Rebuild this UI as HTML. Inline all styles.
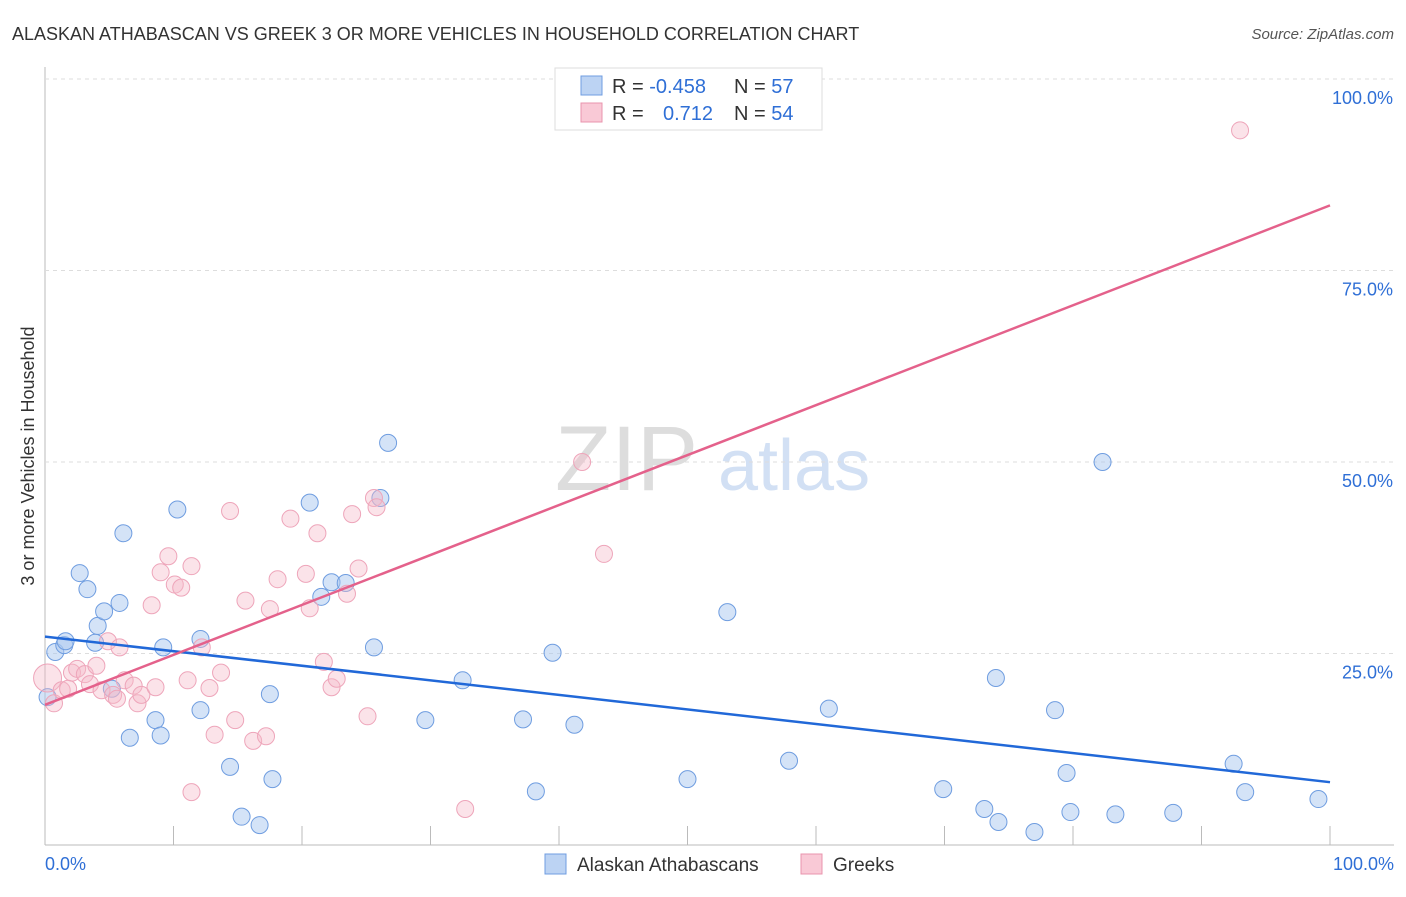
<!DOCTYPE html>
<html><head><meta charset="utf-8"><style>
body{margin:0;background:#fff;font-family:"Liberation Sans",sans-serif}
text{font-family:"Liberation Sans",sans-serif}
</style></head><body>
<svg id="c" width="1406" height="892">
<text x="12" y="40" font-size="18" fill="#333">ALASKAN ATHABASCAN VS GREEK 3 OR MORE VEHICLES IN HOUSEHOLD CORRELATION CHART</text>
<text x="1394" y="39" font-size="15" fill="#555" text-anchor="end" font-style="italic">Source: ZipAtlas.com</text>
<text x="34" y="456" font-size="18" fill="#333" text-anchor="middle" transform="rotate(-90 34 456)">3 or more Vehicles in Household</text>
<g><text x="555" y="490" font-size="92" fill="#ddd" font-family="Liberation Serif">ZIP</text><text x="718" y="490" font-size="72" fill="#d2e0f4">atlas</text></g>
<g id="grid"></g><g id="pts"></g><g id="lines"></g>
<g>
<rect x="555" y="68" width="267" height="62" fill="#fff" stroke="#ddd"/>
<rect x="581" y="76" width="21" height="19" fill="#bcd3f3" stroke="#6f9de0"/>
<rect x="581" y="103" width="21" height="19" fill="#f9c9d6" stroke="#e994ad"/>
<text x="612" y="93" font-size="20" fill="#333">R = <tspan fill="#2f6fd6">-0.458</tspan><tspan x="734">N = </tspan><tspan fill="#2f6fd6">57</tspan></text>
<text x="612" y="120" font-size="20" fill="#333">R = <tspan x="663" fill="#2f6fd6">0.712</tspan><tspan x="734">N = </tspan><tspan fill="#2f6fd6">54</tspan></text>
</g>
<g>
<rect x="545" y="854" width="21" height="20" fill="#bcd3f3" stroke="#6f9de0"/>
<text x="577" y="871" font-size="19" fill="#333">Alaskan Athabascans</text>
<rect x="801" y="854" width="21" height="20" fill="#f9c9d6" stroke="#e994ad"/>
<text x="833" y="871" font-size="19" fill="#333">Greeks</text>
</g>
</svg>
<script>
const yTicks=[100,75,50,25];
const xTickVals=[0,10,20,30,40,50,60,70,80,90,100];
const blueX=[0.2,0.8,1.5,1.6,2.7,3.3,3.9,4.1,4.6,5.2,5.8,6.1,6.6,8.6,9,9.2,10.3,12.1,12.1,14.4,15.3,16.7,17.5,17.7,20.6,21.5,22.3,23.4,25.6,26.1,26.7,29.6,32.5,37.2,38.2,39.5,41.2,50,53.1,57.9,61,69.9,73.1,74,74.2,77,78.6,79.5,79.8,82.3,83.3,87.8,92.5,93.4,99.1];
const blueY=[19.3,25.2,26.1,26.6,35.5,33.4,26.4,28.6,30.5,20.4,31.6,40.7,14,16.3,14.3,25.8,43.8,26.9,17.6,10.2,3.7,2.6,19.7,8.6,44.7,32.4,34.3,34.2,25.8,45.3,52.5,16.3,21.5,16.4,7,25.1,15.7,8.6,30.4,11,17.8,7.3,4.7,21.8,3,1.7,17.6,9.4,4.3,50,4.0,4.2,10.6,6.9,6];
const pinkX=[0.2,0.7,1.3,1.8,2.1,2.5,3.1,3.5,4,4.4,4.9,5.3,5.6,5.8,6.2,6.9,7.2,7.5,8.3,8.6,9,9.6,10.1,10.6,11.1,11.4,12.2,12.8,13.2,13.7,14.4,14.8,15.6,16.2,17.2,17.5,18.1,19.1,20.3,20.6,21.2,21.7,22.3,22.7,23.5,23.9,24.4,25.1,25.6,25.8,32.7,41.8,43.5,11.4,93];
const pinkY=[21.8,18.5,20.2,20.4,22.5,23,22.3,21,23.4,20.2,26.6,19.6,19.1,25.8,21.5,20.8,18.5,19.6,31.3,20.6,35.6,37.7,34,33.6,21.5,36.4,25.8,20.5,14.4,22.5,43.6,16.3,31.9,13.6,14.2,30.8,34.7,42.6,35.4,30.9,40.7,23.9,20.6,21.7,32.8,43.2,36.1,16.8,45.3,44.1,4.7,50,38,6.9,93.3];
const blueLine=[27.2,8.2];
const pinkLine=[18.3,83.5];
const X=v=>45+v*12.85, Y=v=>845-v*7.66;
const NS='http://www.w3.org/2000/svg';
function mk(t,a,p){const e=document.createElementNS(NS,t);for(const k in a)e.setAttribute(k,a[k]);p.appendChild(e);return e;}
const g=document.getElementById('grid');
mk('line',{x1:45,y1:67,x2:45,y2:845,stroke:'#bbb'},g);
mk('line',{x1:45,y1:845,x2:1394,y2:845,stroke:'#bbb'},g);
yTicks.forEach(t=>{
const l=mk('line',{x1:45,y1:Y(t),x2:1394,y2:Y(t),stroke:'#ddd','stroke-dasharray':'4,4'},g);


const tx=mk('text',{x:1393,y:Y(t)+25,'font-size':18,fill:'#2f6fd6','text-anchor':'end'},g);
tx.textContent=t.toFixed(1)+'%';


});
xTickVals.forEach(t=>{if(t>0){const l=mk('line',{x1:X(t),y1:826,x2:X(t),y2:845,stroke:'#bbb'},g);

}});
const x0=mk('text',{x:45,y:870,'font-size':18,fill:'#2f6fd6'},g);x0.textContent='0.0%';


const x1=mk('text',{x:1394,y:870,'font-size':18,fill:'#2f6fd6','text-anchor':'end'},g);x1.textContent='100.0%';


const P=document.getElementById('pts');
blueX.forEach((v,i)=>{const c=mk('circle',{cx:X(v),cy:Y(blueY[i]),r:8.5,fill:'rgba(169,200,240,0.5)',stroke:'#6f9de0','stroke-width':1},P);

});
pinkX.forEach((v,i)=>{const c=mk('circle',{cx:X(v),cy:Y(pinkY[i]),r:i==0?14:8.5,fill:'rgba(245,184,200,0.4)',stroke:'#eea5ba','stroke-width':1},P);

});
const L=document.getElementById('lines');
const bl=mk('line',{x1:X(0),y1:Y(blueLine[0]),x2:X(100),y2:Y(blueLine[1]),stroke:'#2168d8','stroke-width':2.5},L);


const pl=mk('line',{x1:X(0),y1:Y(pinkLine[0]),x2:X(100),y2:Y(pinkLine[1]),stroke:'#e4618b','stroke-width':2.5},L);


</script>
</body></html>
